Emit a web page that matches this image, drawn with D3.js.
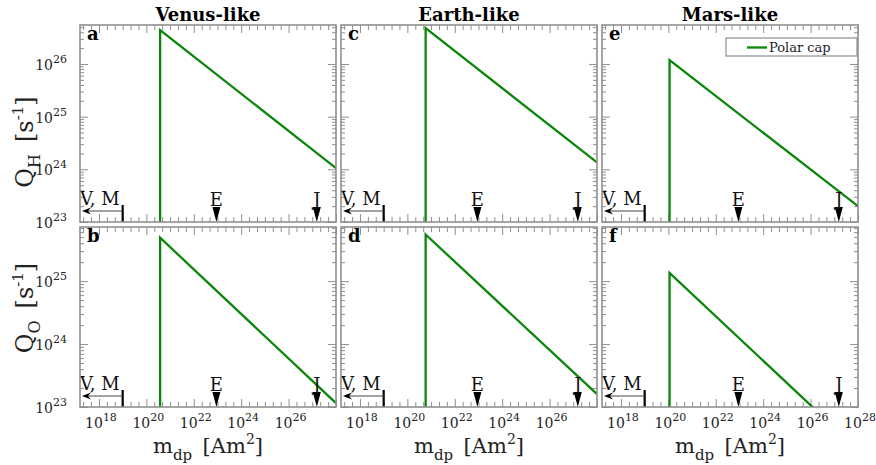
<!DOCTYPE html>
<html>
<head>
<meta charset="utf-8">
<script src="https://cdn.jsdelivr.net/npm/d3@7"></script>
<style>
body { margin: 0; background: #fff; }
text { font-family: "DejaVu Serif", serif; }
</style>
</head>
<body>
<svg id="chart" width="876" height="465"></svg>
<script>
// planet-like cases, one column each
var categories = ["Venus-like", "Earth-like", "Mars-like"];
var panelLetters = [["a", "b"], ["c", "d"], ["e", "f"]];

// polar cap escape: onset moment, peak rate, rate at m = 1e28
var onsetMoment = [3.8e20, 5.9e20, 1.12e20];
var endMoment = 1e28;
var peakQH = [4.4e26, 4.8e26, 1.18e26];
var endQH = [1.05e24, 1.35e24, 2.0e23];
var peakQO = [4.9e25, 5.5e25, 1.35e25];
var endQO = [1.15e23, 1.6e23, 2.1e22];

// present-day planetary moments
var markerLabels = ["V, M", "E", "J"];
var markerMoments = [1e19, 9e22, 1.55e27];

var xTickExp = [18, 20, 22, 24, 26, 28];
var yTickExpH = [23, 24, 25, 26];
var yTickExpO = [23, 24, 25];

var green = "#0b860b";
var frameColor = "#8f8f8f";

var svg = d3.select("#chart");
var defs = svg.append("defs");

var panelW = 256;
var colX = [80, 341, 602];
var rows = [
    {top: 25, h: 197, ymax: Math.pow(10, 26.74), peak: peakQH, end: endQH, ticks: yTickExpH, sub: "H"},
    {top: 227, h: 180, ymax: Math.pow(10, 25.86), peak: peakQO, end: endQO, ticks: yTickExpO, sub: "O"}
];

var x = d3.scaleLog().domain([Math.pow(10, 17.2), endMoment]).range([0, panelW]);

// x ticks every third of a decade, longer on even decades
var xMinor = [], xMajor = [];
for (var k = Math.ceil(17.2 * 3); k <= 84; k++) {
    var v = Math.pow(10, k / 3);
    if (k % 6 == 0) xMajor.push(v); else xMinor.push(v);
}

function styleAxis(a) {
    a.select(".domain").remove();
    a.selectAll("line").attr("stroke", frameColor).attr("stroke-width", 1);
}

rows.forEach(function(row, ri) {
    var y = d3.scaleLog().domain([1e23, row.ymax]).range([row.h, 0]);

    var yMinor = [], yMajor = [];
    for (var e = 23; e <= 27; e++) {
        for (var m = 1; m <= 9; m++) {
            var v = m * Math.pow(10, e);
            if (v < 1e23 || v > row.ymax) continue;
            if (m == 1) yMajor.push(v); else yMinor.push(v);
        }
    }

    categories.forEach(function(cat, ci) {
        var g = svg.append("g").attr("transform", "translate(" + colX[ci] + "," + row.top + ")");
        var clipId = "clip-" + ri + "-" + ci;
        defs.append("clipPath").attr("id", clipId)
            .append("rect").attr("width", panelW).attr("height", row.h);

        // inward ticks on all four sides
        [[d3.axisLeft, "translate(0,0)"], [d3.axisRight, "translate(" + panelW + ",0)"]].forEach(function(s) {
            g.append("g").attr("transform", s[1]).call(s[0](y).tickValues(yMinor).tickSize(-4).tickFormat("")).call(styleAxis);
            g.append("g").attr("transform", s[1]).call(s[0](y).tickValues(yMajor).tickSize(-8).tickFormat("")).call(styleAxis);
        });
        [[d3.axisTop, "translate(0,0)"], [d3.axisBottom, "translate(0," + row.h + ")"]].forEach(function(s) {
            g.append("g").attr("transform", s[1]).call(s[0](x).tickValues(xMinor).tickSize(-5).tickFormat("")).call(styleAxis);
            g.append("g").attr("transform", s[1]).call(s[0](x).tickValues(xMajor).tickSize(-8).tickFormat("")).call(styleAxis);
        });

        // curve
        var pts = [[onsetMoment[ci], 1e23], [onsetMoment[ci], row.peak[ci]], [endMoment, row.end[ci]]];
        g.append("path")
            .attr("clip-path", "url(#" + clipId + ")")
            .attr("d", d3.line().x(function(d) { return x(d[0]); }).y(function(d) { return y(d[1]); })(pts))
            .attr("fill", "none")
            .attr("stroke", green)
            .attr("stroke-width", 2.3);

        // planet markers
        var h = row.h;
        var xv = x(markerMoments[0]);
        g.append("line").attr("x1", xv).attr("x2", xv).attr("y1", h - 17).attr("y2", h)
            .attr("stroke", "#000").attr("stroke-width", 2.2);
        g.append("line").attr("x1", xv).attr("x2", 4).attr("y1", h - 11).attr("y2", h - 11)
            .attr("stroke", "#444").attr("stroke-width", 1);
        g.append("path").attr("d", "M2," + (h - 11) + "L11," + (h - 14.5) + "L8," + (h - 11) + "L11," + (h - 7.5) + "Z")
            .attr("fill", "#000");
        g.append("text").attr("x", 0).attr("y", h - 17).attr("font-size", "18px").attr("fill", "#111")
            .text(markerLabels[0]);
        for (var j = 1; j < 3; j++) {
            var xm = x(markerMoments[j]);
            g.append("path").attr("d", "M" + xm + "," + h + "L" + (xm - 4) + "," + (h - 15) + "L" + (xm + 4) + "," + (h - 15) + "Z")
                .attr("fill", "#000");
            g.append("text").attr("x", xm).attr("y", h - 16).attr("text-anchor", "middle")
                .attr("font-size", "18px").attr("fill", "#111").text(markerLabels[j]);
        }

        // frame
        g.append("rect").attr("width", panelW).attr("height", row.h)
            .attr("fill", "none").attr("stroke", frameColor).attr("stroke-width", 1.6);

        // panel letter
        g.append("text").attr("x", 7).attr("y", 15).attr("font-size", "18px").attr("font-weight", "bold")
            .text(panelLetters[ci][ri]);

        if (ri == 0) {
            svg.append("text").attr("x", colX[ci] + panelW / 2).attr("y", 21)
                .attr("text-anchor", "middle").attr("font-size", "18px").attr("font-weight", "bold")
                .text(cat);
        }

        // y tick labels on first column
        if (ci == 0) {
            row.ticks.forEach(function(e) {
                var t = g.append("text").attr("x", -13).attr("y", y(Math.pow(10, e)) + 6)
                    .attr("text-anchor", "end").attr("font-size", "14px").attr("fill", "#222");
                t.append("tspan").text("10");
                t.append("tspan").attr("dy", -7).attr("font-size", "11px").text(e);
            });
        }

        // x tick labels and title on the bottom row
        if (ri == 1) {
            xTickExp.forEach(function(e) {
                if (e == 28 && ci < 2) return;
                var t = g.append("text").attr("x", x(Math.pow(10, e)) + 2).attr("y", h + 21)
                    .attr("text-anchor", "middle").attr("font-size", "14px").attr("fill", "#222");
                t.append("tspan").text("10");
                t.append("tspan").attr("dy", -7).attr("font-size", "11px").text(e);
            });
            var xt = g.append("text").attr("x", panelW / 2).attr("y", h + 46)
                .attr("text-anchor", "middle").attr("font-size", "21px").attr("fill", "#222");
            xt.append("tspan").text("m");
            xt.append("tspan").attr("dy", 7).attr("font-size", "15px").text("dp");
            xt.append("tspan").attr("dy", -7).text("\u2002[Am");
            xt.append("tspan").attr("dy", -9).attr("font-size", "14px").text("2");
            xt.append("tspan").attr("dy", 9).text("]");
        }
    });

    // y title
    var cy = ri == 0 ? 142 : 308;
    var yt = svg.append("text").attr("transform", "translate(33," + cy + ") rotate(-90)")
        .attr("text-anchor", "middle").attr("font-size", "24px").attr("fill", "#222");
    yt.append("tspan").text("Q");
    yt.append("tspan").attr("dy", 7).attr("font-size", "16px").text(row.sub);
    yt.append("tspan").attr("dy", -7).text("\u2002[s");
    yt.append("tspan").attr("dy", -10).attr("font-size", "15px").text("-1");
    yt.append("tspan").attr("dy", 10).text("]");
});

// legend in panel e
var lg = svg.append("g").attr("transform", "translate(" + colX[2] + "," + rows[0].top + ")");
lg.append("rect").attr("x", 124).attr("y", 13).attr("width", 131).attr("height", 18)
    .attr("fill", "#fff").attr("stroke", frameColor).attr("stroke-width", 1.2);
lg.append("line").attr("x1", 145).attr("x2", 165).attr("y1", 22.5).attr("y2", 22.5)
    .attr("stroke", green).attr("stroke-width", 2.3);
lg.append("text").attr("x", 167).attr("y", 27).attr("font-size", "13px").attr("fill", "#222").text("Polar cap");
</script>
</body>
</html>
